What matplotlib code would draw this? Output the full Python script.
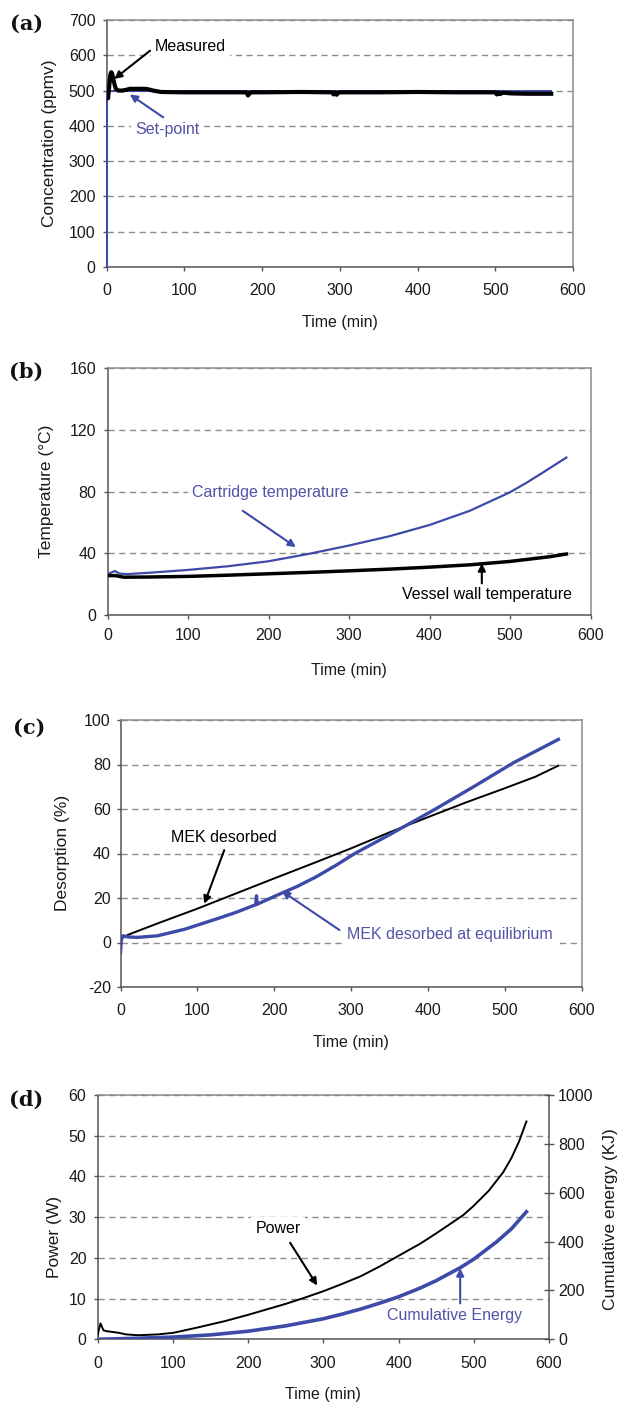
import matplotlib
matplotlib.use("Agg")
import matplotlib.pyplot as plt

plt.rcParams['font.family'] = ['Liberation Sans', 'DejaVu Sans']
plt.rcParams['axes.unicode_minus'] = False

# ---------------- data ----------------
# (a) concentration
setpoint_t = [0, 0, 572]
setpoint_c = [0, 500, 500]
measured_t = [1, 2, 2.5, 3, 4, 5, 6, 7, 8, 10, 12, 15, 20, 25, 30, 40, 50, 55, 60, 70,
              100, 150, 180, 182, 184, 186, 200, 250, 290, 292, 294, 296, 298, 300, 350, 400,
              450, 500, 502, 504, 506, 510, 520, 540, 560, 572]
measured_c = [480, 478, 490, 500, 525, 545, 552, 550, 540, 520, 505, 500, 500, 502, 505, 505,
              505, 503, 500, 496, 495, 495, 495, 486, 492, 495, 495, 496, 495, 489, 495, 488,
              494, 495, 495, 496, 495, 495, 489, 495, 490, 494, 492, 491, 491, 491]

# (b) temperatures
cartridge_t = [0, 5, 9, 15, 25, 50, 100, 150, 200, 250, 300, 350, 400, 450, 500, 520, 540, 555, 570]
cartridge_T = [26.5, 27.5, 28.5, 26.8, 26.5, 27.3, 29.2, 31.6, 34.8, 39.6, 45, 51, 58.3, 67.5,
               79.5, 85.5, 92, 97, 102]
wall_t = [0, 10, 20, 50, 100, 150, 200, 250, 300, 350, 400, 450, 500, 550, 570]
wall_T = [25.5, 25.5, 24.5, 24.6, 25.0, 25.8, 26.7, 27.6, 28.6, 29.7, 31, 32.5, 34.7, 37.8, 39.5]

# (c) desorption
mek_t = [0, 2, 10, 50, 100, 150, 200, 250, 300, 350, 400, 450, 500, 540, 570]
mek_D = [1, 2, 3.5, 8.8, 15.2, 22, 28.8, 35.5, 42.3, 49.5, 56.3, 63, 69.3, 74.5, 79.5]
eq_t = [0, 1, 3, 10, 22, 48, 84, 125, 150, 176, 177, 178, 202, 230, 254, 280, 305, 352, 408,
        460, 511, 570]
eq_D = [-4.5, 1, 3, 2.5, 2.3, 3, 6, 10.6, 13.5, 17, 21, 17.2, 21, 25.2, 29.4, 34.6, 40, 48.8,
        59.6, 70.1, 80.7, 91.3]

# (d) power / energy
power_t = [0, 2, 4, 6, 8, 12, 20, 28, 38, 54, 80, 101, 133, 170, 200, 250, 275, 300, 325, 350,
           375, 400, 429, 450, 486, 500, 520, 539, 550, 560, 570]
power_P = [0.8, 2.5, 3.9, 3.0, 2.2, 2.0, 1.8, 1.6, 1.2, 1.0, 1.2, 1.6, 2.9, 4.5, 6.0, 8.7, 10.2,
           11.8, 13.6, 15.5, 17.9, 20.5, 23.5, 26.0, 30.5, 32.8, 36.5, 41.0, 44.5, 48.5, 53.5]
energy_t = [0, 50, 100, 150, 200, 250, 300, 325, 350, 375, 400, 429, 450, 482, 500, 530, 550, 570]
energy_E = [0, 4, 9, 18, 33, 55, 84, 103, 124, 148, 174, 210, 240, 293, 328, 398, 452, 522]

x_ticks = [0, 100, 200, 300, 400, 500, 600]

# ---------------- styling ----------------
W, H = 619, 1406
BLUE = '#3d4aa8'
BLUE_TXT = '#5252a6'
GRID = '#8c8c8c'
TXT = '#1a1a1a'
TICK_FS = 11.5
XLAB_FS = 11.5
YLAB_FS = 12.5
ANN_FS = 11.5

fig = plt.figure(figsize=(W / 100, H / 100), dpi=100)


def add_ax(l, r, t, b):
    return fig.add_axes([l / W, 1 - b / H, (r - l) / W, (b - t) / H])


def style(ax, ylim, yticks, ylabel, box, ylab_x, ylab_y, xlab_y, xpad, ypad):
    l, r, t, b = box
    ax.set_xlim(0, 600)
    ax.set_xticks(x_ticks)
    ax.set_ylim(*ylim)
    ax.set_yticks(yticks)
    for s in ['top', 'right']:
        ax.spines[s].set_color('#8a8a8a')
        ax.spines[s].set_linewidth(1.1)
    for s in ['left', 'bottom']:
        ax.spines[s].set_color('#555555')
        ax.spines[s].set_linewidth(1.1)
    ax.tick_params(axis='x', direction='out', length=3, width=1, color='#555555',
                   labelsize=TICK_FS, labelcolor=TXT, pad=xpad)
    ax.tick_params(axis='y', direction='out', length=3, width=1, color='#555555',
                   labelsize=TICK_FS, labelcolor=TXT, pad=ypad)
    ax.yaxis.grid(True, linestyle=(0, (4.5, 3.2)), color=GRID, linewidth=1.0)
    ax.set_axisbelow(True)
    ax.set_xlabel('Time (min)', fontsize=XLAB_FS, color=TXT)
    ax.xaxis.label.set_va('center')
    ax.xaxis.set_label_coords(0.5, (b - xlab_y) / (b - t))
    ax.set_ylabel(ylabel, fontsize=YLAB_FS, color=TXT)
    ax.yaxis.label.set_va('center')
    ax.yaxis.set_label_coords((ylab_x - l) / (r - l), (b - ylab_y) / (b - t))


def arrow(ax, start, tip, color):
    ax.annotate('', xy=tip, xytext=start,
                arrowprops=dict(arrowstyle='-|>', color=color, lw=1.5,
                                mutation_scale=11, shrinkA=0, shrinkB=0),
                zorder=5)


def label(ax, x, y, s, color, ha='center'):
    ax.text(x, y, s, fontsize=ANN_FS, color=color, ha=ha, va='center', zorder=4,
            bbox=dict(boxstyle='square,pad=0.25', fc='white', ec='none'))


def panel(x, y, s):
    fig.text(x / W, 1 - y / H, s, ha='center', va='center', fontsize=15,
             fontweight='bold', family='DejaVu Serif', color='#111111')


# ---------------- (a) ----------------
box_a = (106.5, 573, 20, 267)
ax = add_ax(*box_a)
style(ax, (0, 700), range(0, 701, 100), 'Concentration (ppmv)', box_a,
      50, 143, 322, 8.5, 5)
ax.plot(setpoint_t, setpoint_c, color=BLUE, lw=1.4, zorder=3, clip_on=False)
ax.plot(measured_t, measured_c, color='black', lw=3.0, zorder=3.1)
label(ax, 62, 624.5, 'Measured', 'black', ha='left')
arrow(ax, (56, 613), (10, 533), 'black')
label(ax, 37, 389, 'Set-point', BLUE_TXT, ha='left')
arrow(ax, (73, 424), (30, 489), BLUE)
panel(27, 24, '(a)')

# ---------------- (b) ----------------
box_b = (107.5, 590.5, 368, 615)
ax = add_ax(*box_b)
style(ax, (0, 160), range(0, 161, 40), 'Temperature (°C)', box_b,
      46, 491, 671, 6, 5)
ax.plot(cartridge_t, cartridge_T, color=BLUE, lw=1.6, zorder=3)
ax.plot(wall_t, wall_T, color='black', lw=2.5, zorder=3)
label(ax, 202, 79.2, 'Cartridge temperature', BLUE_TXT)
arrow(ax, (168, 67.5), (234, 44), BLUE)
label(ax, 472, 13, 'Vessel wall temperature', 'black')
arrow(ax, (465, 20.5), (465, 33.5), 'black')
panel(26, 372, '(b)')

# ---------------- (c) ----------------
box_c = (120.5, 581.5, 720, 987)
ax = add_ax(*box_c)
style(ax, (-20, 100), range(-20, 101, 20), 'Desorption (%)', box_c,
      62, 853, 1042, 8.5, 4)
ax.plot(mek_t, mek_D, color='black', lw=1.4, zorder=3)
ax.plot(eq_t, eq_D, color=BLUE, lw=2.4, zorder=3)
label(ax, 135, 47.2, 'MEK desorbed', 'black')
arrow(ax, (135, 41.5), (109, 17.4), 'black')
label(ax, 428, 3.8, 'MEK desorbed at equilibrium', BLUE_TXT)
arrow(ax, (285, 5.6), (210, 23.1), BLUE)
panel(29, 728, '(c)')

# ---------------- (d) ----------------
box_d = (97.5, 549, 1095, 1339.3)
ax = add_ax(*box_d)
style(ax, (0, 60), range(0, 61, 10), 'Power (W)', box_d,
      54, 1237, 1394, 9, 5)
ax.spines['right'].set_visible(False)
ax.plot(power_t, power_P, color='black', lw=1.4, zorder=3)
label(ax, 240, 27.2, 'Power', 'black')
arrow(ax, (256, 23.7), (292, 13.2), 'black')

ax2 = ax.twinx()
ax2.set_ylim(0, 1000)
ax2.set_yticks(range(0, 1001, 200))
for s in ['left', 'top', 'bottom']:
    ax2.spines[s].set_visible(False)
ax2.spines['right'].set_color('#555555')
ax2.spines['right'].set_linewidth(1.1)
ax2.tick_params(axis='y', direction='inout', length=7, width=1, color='#555555',
                labelsize=TICK_FS, labelcolor=TXT, pad=3)
ax2.plot(energy_t, energy_E, color=BLUE, lw=2.6, zorder=3)
ax2.set_ylabel('Cumulative energy (KJ)', fontsize=YLAB_FS, color=TXT)
ax2.yaxis.label.set_va('center')
ax2.yaxis.set_label_coords((611 - 97.5) / (549 - 97.5), (1339.3 - 1219) / 244.3)
ax2.text(475, 99, 'Cumulative Energy', fontsize=ANN_FS, color=BLUE_TXT, ha='center',
         va='center', zorder=4)
arrow(ax2, (482, 147), (482, 291), BLUE)
panel(26.5, 1100, '(d)')

fig.savefig('out.png', dpi=100, facecolor='white')
